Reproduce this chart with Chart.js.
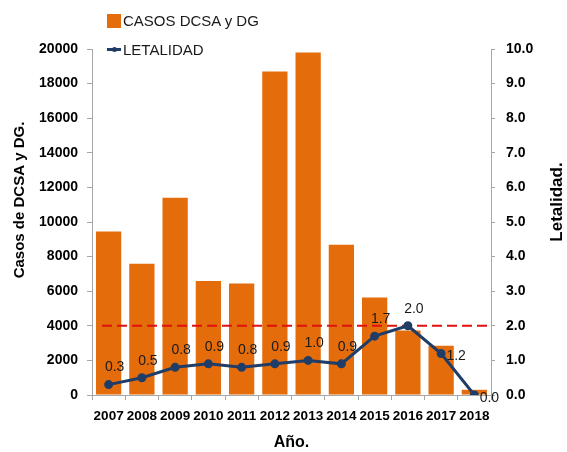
<!DOCTYPE html>
<html lang="es">
<head>
    <meta charset="UTF-8">
    <title>Casos DCSA y DG - Letalidad</title>
    <style>
        body {
            margin: 0;
            background-color: white;
        }
        .wrap {
            position: relative;
            width: 567px;
            height: 452px;
        }
        .legend {
            position: absolute;
            left: 107px;
            top: 10px;
            font-family: "Liberation Sans", Arial, sans-serif;
            font-size: 15px;
            color: #1a1a1a;
        }
        .legend div {
            height: 29px;
            line-height: 22px;
            white-space: nowrap;
        }
        .box {
            display: inline-block;
            width: 14px;
            height: 14px;
            background: #E46C0A;
            vertical-align: -2px;
            margin-right: 2px;
        }
        .ln {
            display: inline-block;
            position: relative;
            width: 14px;
            height: 3px;
            background: #1F3D66;
            vertical-align: 4px;
            margin-right: 2px;
        }
        .ln::after {
            content: "";
            position: absolute;
            left: 5px;
            top: -1px;
            width: 5px;
            height: 5px;
            border-radius: 50%;
            background: #1F3D66;
        }
    </style>
    <script src="https://cdn.jsdelivr.net/npm/chart.js"></script>
</head>
<body>

<div class="wrap">
    <canvas id="grafica" width="567" height="452"></canvas>
    <div class="legend">
        <div><span class="box"></span>CASOS DCSA y DG</div>
        <div><span class="ln"></span>LETALIDAD</div>
    </div>
</div>

<script>
    // datos
    const anios = ['2007', '2008', '2009', '2010', '2011', '2012', '2013', '2014', '2015', '2016', '2017', '2018'];
    const casos = [9450, 7590, 11400, 6590, 6450, 18700, 19800, 8690, 5640, 3730, 2850, 300];
    const letalidad = [0.3, 0.5, 0.8, 0.9, 0.8, 0.9, 1.0, 0.9, 1.7, 2.0, 1.2, 0.0];
    const umbralLetalidad = 2.0;

    const naranja = '#E46C0A';
    const azul = '#1F3D66';
    const gris = '#A6A6A6';
    const arial = '"Liberation Sans", Arial, sans-serif';

    // donde va cada etiqueta de la linea
    const posEtiqueta = ['top', 'top', 'top', 'top', 'top', 'top', 'top', 'top', 'top', 'top', 'right', 'right'];

    // linea roja discontinua en el umbral, entre las barras y la linea
    const umbralPlugin = {
        id: 'umbral',
        beforeDatasetDraw(chart, args) {
            if (args.index !== 0) return;
            const ctx = chart.ctx;
            const area = chart.chartArea;
            const y = chart.scales.y1.getPixelForValue(umbralLetalidad);
            ctx.save();
            ctx.strokeStyle = '#E01010';
            ctx.lineWidth = 2;
            ctx.setLineDash([10, 5]);
            ctx.beginPath();
            ctx.moveTo(area.left + 10, y);
            ctx.lineTo(area.right - 3, y);
            ctx.stroke();
            ctx.restore();
        }
    };

    // etiquetas de valores y titulos de los ejes verticales
    const textosPlugin = {
        id: 'textos',
        afterDatasetsDraw(chart) {
            const ctx = chart.ctx;
            const meta = chart.getDatasetMeta(0);
            ctx.save();
            ctx.font = '14px ' + arial;
            ctx.fillStyle = '#1a1a1a';
            ctx.textAlign = 'center';
            ctx.textBaseline = 'middle';
            meta.data.forEach((pt, i) => {
                const txt = letalidad[i].toFixed(1);
                if (posEtiqueta[i] === 'right') {
                    ctx.fillText(txt, pt.x + 15, pt.y + 3);
                } else {
                    ctx.fillText(txt, pt.x + 6, pt.y - 17);
                }
            });
            ctx.restore();
        },
        afterDraw(chart) {
            const ctx = chart.ctx;
            ctx.save();
            ctx.fillStyle = '#000';
            ctx.textAlign = 'center';
            ctx.textBaseline = 'middle';
            ctx.font = 'bold 15px ' + arial;
            ctx.translate(20, 200);
            ctx.rotate(-Math.PI / 2);
            ctx.fillText('Casos de DCSA y DG.', 0, 0);
            ctx.restore();

            ctx.save();
            ctx.fillStyle = '#000';
            ctx.textAlign = 'center';
            ctx.textBaseline = 'middle';
            ctx.font = 'bold 17px ' + arial;
            ctx.translate(557, 202);
            ctx.rotate(-Math.PI / 2);
            ctx.fillText('Letalidad.', 0, 0);
            ctx.restore();
        }
    };

    const tickFont = { family: arial, size: 14, weight: 'bold' };
    const xTickFont = { family: arial, size: 13.5, weight: 'bold' };

    const ctx = document.getElementById('grafica').getContext('2d');
    const grafica = new Chart(ctx, {
        data: {
            labels: anios,
            datasets: [{
                type: 'line',
                label: 'LETALIDAD',
                data: letalidad,
                yAxisID: 'y1',
                borderColor: azul,
                backgroundColor: azul,
                borderWidth: 3,
                pointRadius: 3,
                pointBackgroundColor: azul,
                pointBorderColor: azul,
                tension: 0,
                order: 0
            }, {
                type: 'bar',
                label: 'CASOS DCSA y DG',
                data: casos,
                yAxisID: 'y',
                backgroundColor: naranja,
                barPercentage: 0.76,
                categoryPercentage: 1,
                order: 1
            }]
        },
        options: {
            responsive: false,
            animation: false,
            layout: { padding: { top: 49, left: 0, right: 0, bottom: 0 } },
            plugins: {
                legend: { display: false },
                tooltip: { enabled: false }
            },
            scales: {
                x: {
                    offset: true,
                    border: { color: gris },
                    grid: { offset: true, drawOnChartArea: false, tickLength: 5, color: gris },
                    ticks: { color: '#000', font: xTickFont, padding: 8, maxRotation: 0, autoSkip: false },
                    title: { display: true, text: 'Año.', color: '#000', font: { family: arial, size: 16, weight: 'bold' }, padding: { top: 0, bottom: 0 } },
                    afterFit(s) { s.height = 57; }
                },
                y: {
                    position: 'left',
                    min: 0,
                    max: 20000,
                    border: { color: gris },
                    grid: { drawOnChartArea: false, tickLength: 5, color: gris },
                    ticks: { stepSize: 2000, color: '#000', font: tickFont, padding: 9, callback: v => String(v) },
                    afterFit(s) { s.width = 92; }
                },
                y1: {
                    position: 'right',
                    min: 0,
                    max: 10,
                    border: { color: gris },
                    grid: { drawOnChartArea: false, tickLength: 4, color: gris },
                    ticks: {
                        stepSize: 1,
                        color: '#000',
                        font: tickFont,
                        padding: 11,
                        callback: v => v.toFixed(1)
                    },
                    afterFit(s) { s.width = 76; }
                }
            }
        },
        plugins: [umbralPlugin, textosPlugin]
    });
</script>

</body>
</html>
